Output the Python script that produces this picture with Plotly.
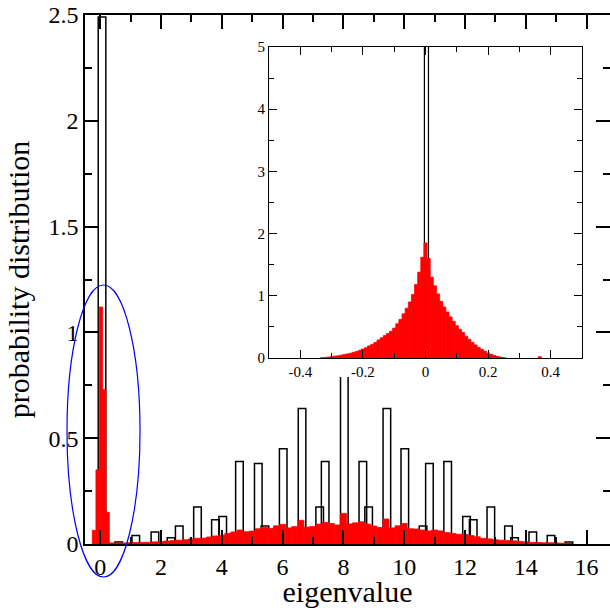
import numpy as np
import plotly.graph_objects as go

# ---------------- data ----------------
# main panel: open (unfilled) histogram
open_x = [0.06, 0.61, 1.17, 1.8, 2.33, 2.6, 3.2, 3.79, 4.03, 4.58, 5.2, 5.42, 6.02, 6.64,
          7.22, 7.4, 8.03, 8.64, 8.83, 9.43, 10.02, 10.62, 10.83, 11.43, 12.05, 12.27,
          12.85, 13.43, 13.63, 14.23, 14.83, 15.42]
open_y = [2.49, 0.01, 0.04, 0.057, 0.03, 0.085, 0.175, 0.115, 0.13, 0.39, 0.38, 0.085,
          0.45, 0.64, 0.175, 0.39, 0.9, 0.39, 0.175, 0.64, 0.45, 0.085, 0.38, 0.39, 0.13,
          0.115, 0.175, 0.085, 0.03, 0.057, 0.04, 0.01]

# main panel: red histogram, central peak bins
red_peak_x = [-0.205, -0.085, 0.025, 0.135, 0.245]
red_peak_y = [0.065, 0.35, 1.12, 0.73, 0.15]

# main panel: red histogram, bulk bins (centres 0.4 ... 15.4)
red_bulk_x = list(np.round(np.arange(0.4, 15.45, 0.2), 2))
red_bulk_y = [0.005, 0.004, 0.005, 0.006, 0.007, 0.008, 0.008, 0.010, 0.012, 0.014,
              0.016, 0.018, 0.020, 0.024, 0.027, 0.028, 0.033, 0.038, 0.042, 0.050,
              0.057, 0.066, 0.058, 0.061, 0.072, 0.079, 0.074, 0.086, 0.093, 0.076,
              0.082, 0.112, 0.080, 0.083, 0.094, 0.102, 0.097, 0.090, 0.145, 0.095,
              0.100, 0.105, 0.094, 0.085, 0.078, 0.118, 0.076, 0.086, 0.097, 0.072,
              0.071, 0.066, 0.062, 0.066, 0.062, 0.054, 0.050, 0.046, 0.045, 0.040,
              0.034, 0.027, 0.024, 0.020, 0.018, 0.016, 0.015, 0.012, 0.010, 0.008,
              0.007, 0.006, 0.006, 0.005, 0.004, 0.003]

# inset: open bar at zero and red histogram
inset_open_x = [0.003]
inset_open_y = [6.0]
inset_red_x = list(np.round(np.arange(-0.33, 0.255, 0.01), 3)) + [0.365]
inset_red_y = [0.005, 0.01, 0.015, 0.02, 0.03, 0.035, 0.045, 0.055, 0.065, 0.075,
               0.09, 0.105, 0.125, 0.145, 0.165, 0.195, 0.22, 0.25, 0.29, 0.325,
               0.36, 0.395, 0.43, 0.48, 0.55, 0.62, 0.71, 0.80, 0.90, 1.02,
               1.18, 1.38, 1.62, 1.85, 1.60, 1.30, 1.16, 1.03, 0.91, 0.82,
               0.74, 0.66, 0.59, 0.52, 0.46, 0.41, 0.35, 0.30, 0.25, 0.21,
               0.17, 0.14, 0.11, 0.08, 0.06, 0.04, 0.025, 0.015, 0.005] + [0.02]

inset_tickvals = [-0.4, -0.2, 0, 0.2, 0.4]
inset_ticktext = ["-0.4", "-0.2", "0", "0.2", "0.4"]

# ---------------- figure ----------------
FONT = "Liberation Serif"
W, H = 610, 608
ML, MR, MT, MB = 85, 0, 15, 64

fig = go.Figure()
fig.add_trace(go.Bar(x=open_x, y=open_y, width=0.25,
                     marker=dict(color="rgba(0,0,0,0)", line=dict(color="black", width=1.5)),
                     xaxis="x", yaxis="y", showlegend=False))
fig.add_trace(go.Bar(x=red_peak_x, y=red_peak_y, width=0.11,
                     marker=dict(color="#ff0000", line=dict(color="#ff0000", width=0.8)),
                     xaxis="x", yaxis="y", showlegend=False))
fig.add_trace(go.Bar(x=red_bulk_x, y=red_bulk_y, width=0.2,
                     marker=dict(color="#ff0000", line=dict(color="#ff0000", width=0.8)),
                     xaxis="x", yaxis="y", showlegend=False))
# invisible cover subplot (white background behind the inset and its labels)
fig.add_trace(go.Scatter(x=[0], y=[0], mode="markers", marker=dict(opacity=0),
                         xaxis="x2", yaxis="y2", showlegend=False, hoverinfo="skip"))
fig.add_trace(go.Bar(x=inset_open_x, y=inset_open_y, width=0.013,
                     marker=dict(color="rgba(0,0,0,0)", line=dict(color="black", width=1.2)),
                     xaxis="x3", yaxis="y3", showlegend=False))
fig.add_trace(go.Bar(x=inset_red_x, y=inset_red_y, width=0.01,
                     marker=dict(color="#ff0000", line=dict(color="#ff0000", width=0.8)),
                     xaxis="x3", yaxis="y3", showlegend=False))

main_ax = dict(showline=True, linecolor="black", linewidth=1.5, mirror="ticks",
               ticks="inside", tickcolor="black", tickwidth=1.5, ticklen=14,
               showgrid=False, zeroline=False, automargin=False,
               tickfont=dict(family=FONT, size=24, color="black"))

inset_ax = dict(showline=True, linecolor="black", linewidth=1, mirror="ticks",
                ticks="inside", tickcolor="black", tickwidth=1, ticklen=8,
                showgrid=False, zeroline=False, automargin=False,
                tickfont=dict(family=FONT, size=15, color="black"))

ix0, ix1 = (269 - ML) / (W - ML - MR), (582 - ML) / (W - ML - MR)
ph = H - MT - MB
iy0, iy1 = (544 - 358) / ph, (544 - 47) / ph
cy0 = (544 - 377) / ph

fig.update_layout(
    width=W, height=H,
    margin=dict(l=ML, r=MR, t=MT, b=MB, autoexpand=False),
    paper_bgcolor="white", plot_bgcolor="white",
    barmode="overlay",
    xaxis=dict(**main_ax, domain=[0, 1], range=[-0.5, 16.77], tick0=0, dtick=2,
               minor=dict(ticks="inside", ticklen=7, tickwidth=1.5, tickcolor="black",
                          tick0=0, dtick=1, showgrid=False),
               title=dict(text="eigenvalue", font=dict(family=FONT, size=30, color="black"),
                          standoff=4)),
    yaxis=dict(**main_ax, domain=[0, 1], range=[0, 2.5], tick0=0, dtick=0.5,
               minor=dict(ticks="inside", ticklen=7, tickwidth=1.5, tickcolor="black",
                          tick0=0, dtick=0.25, showgrid=False),
               title=dict(text="probability distribution",
                          font=dict(family=FONT, size=30, color="black"), standoff=10)),
    xaxis2=dict(domain=[ix0, ix1], anchor="y2", range=[1, 2], visible=False),
    yaxis2=dict(domain=[cy0, iy1], anchor="x2", range=[1, 2], visible=False),
    xaxis3=dict(**inset_ax, domain=[ix0, ix1], anchor="y3", range=[-0.5, 0.5],
                tickmode="array", tickvals=inset_tickvals, ticktext=inset_ticktext,
                minor=dict(ticks="inside", ticklen=5, tickwidth=1, tickcolor="black",
                           tickmode="array", tickvals=[-0.3, -0.1, 0.1, 0.3], showgrid=False)),
    yaxis3=dict(**inset_ax, domain=[iy0, iy1], anchor="x3", range=[0, 5], tick0=0, dtick=1,
                minor=dict(ticks="inside", ticklen=5, tickwidth=1, tickcolor="black",
                           tick0=0, dtick=0.5, showgrid=False)),
    shapes=[dict(type="circle", xref="paper", yref="paper",
                 x0=-0.0343, x1=0.1048, y0=-0.0624, y1=0.4896,
                 line=dict(color="blue", width=1.2))],
)

fig.write_html("out.html", config={"displayModeBar": False},
               post_script="document.body.style.margin='0';document.body.style.padding='0';")
